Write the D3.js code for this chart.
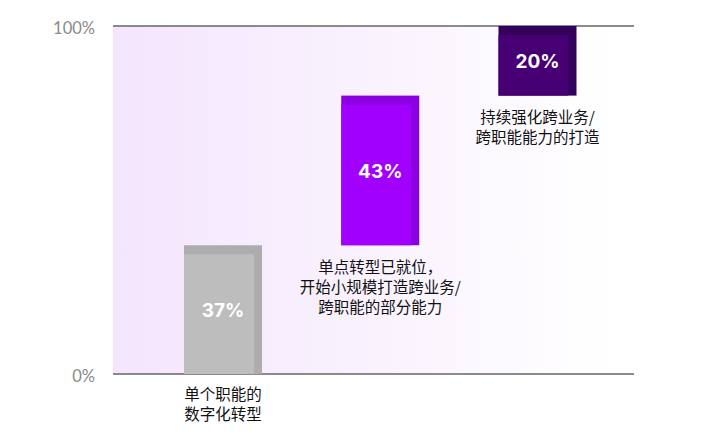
<!DOCTYPE html>
<html>
<head>
<meta charset="UTF-8">
<script src="https://d3js.org/d3.v7.min.js"></script>
<style>
  body { margin: 0; background: #fff; }
  text { font-family: "Noto Sans CJK SC", "Noto Sans", sans-serif; }
</style>
</head>
<body>
<script>
// data
var stages = ["单个职能的数字化转型", "单点转型已就位", "持续强化跨业务"];
var shares = [37, 43, 20];
var stageLabels = [
  ["单个职能的", "数字化转型"],
  ["单点转型已就位，", "开始小规模打造跨业务/", "跨职能的部分能力"],
  ["持续强化跨业务/", "跨职能能力的打造"]
];
var yTicks = [0, 100];
var faceColors = ["#bdbdbd", "#a100ff", "#460073"];
var edgeColors = ["#adadad", "#8b00e0", "#33005b"];

var width = 712, height = 438;
var plotLeft = 113, plotRight = 634, plotTop = 26, plotBottom = 374;

var svg = d3.select("body").append("svg")
    .attr("width", width)
    .attr("height", height);

// running totals for waterfall
var start = [];
var acc = 0;
shares.forEach(function (v) { start.push(acc); acc += v; });

var y = d3.scaleLinear().domain([0, 100]).range([plotBottom, plotTop]);
var x = d3.scalePoint().domain(stages).range([223, 537.5]);
var barW = 78;

// background gradient
var grad = svg.append("defs").append("linearGradient")
    .attr("id", "bg").attr("x1", "0%").attr("x2", "100%");
grad.append("stop").attr("offset", "0%").attr("stop-color", "#f4e5fd");
grad.append("stop").attr("offset", "100%").attr("stop-color", "#ffffff");

svg.append("rect")
    .attr("x", plotLeft).attr("y", plotTop)
    .attr("width", 500).attr("height", plotBottom - plotTop)
    .attr("fill", "url(#bg)");

// lines at 0 and 100
svg.append("g").selectAll("line")
    .data(yTicks).enter().append("line")
    .attr("x1", plotLeft).attr("x2", plotRight)
    .attr("y1", function (d) { return y(d); })
    .attr("y2", function (d) { return y(d); })
    .attr("stroke", "#666").attr("stroke-width", 1.5);

svg.append("g").selectAll("text")
    .data(yTicks).enter().append("text")
    .attr("x", 95)
    .attr("y", function (d) { return y(d) + 2; })
    .attr("dy", "0.35em")
    .attr("text-anchor", "end")
    .attr("fill", "#8a8a8a")
    .style("font-family", "Lato, 'Noto Sans', sans-serif")
    .style("font-size", "16.5px")
    .text(function (d) { return d + "%"; });

// bars
var bars = svg.append("g").selectAll("g")
    .data(stages).enter().append("g");

bars.append("rect")
    .attr("x", function (d) { return x(d) - barW / 2; })
    .attr("y", function (d, i) { return y(start[i] + shares[i]); })
    .attr("width", barW)
    .attr("height", function (d, i) { return y(start[i]) - y(start[i] + shares[i]); })
    .attr("fill", function (d, i) { return edgeColors[i]; });

bars.append("rect")
    .attr("x", function (d) { return x(d) - barW / 2; })
    .attr("y", function (d, i) { return y(start[i] + shares[i]) + 9; })
    .attr("width", barW - 8)
    .attr("height", function (d, i) { return y(start[i]) - y(start[i] + shares[i]) - 9; })
    .attr("fill", function (d, i) { return faceColors[i]; });

bars.append("text")
    .attr("x", function (d) { return x(d); })
    .attr("y", function (d, i) { return y(start[i] + shares[i] / 2) + 1; })
    .attr("dy", "0.35em")
    .attr("text-anchor", "middle")
    .attr("fill", "#fff")
    .style("font-family", "Inter, 'Noto Sans', sans-serif")
    .style("font-weight", "700")
    .style("font-size", "19px")
    .text(function (d, i) { return shares[i] + "%"; });

// stage labels under each bar
bars.each(function (d, i) {
  var base = i === 0 ? y(0) + 21 : y(start[i]) + 22;
  d3.select(this).append("g").selectAll("text")
    .data(stageLabels[i]).enter().append("text")
    .attr("x", x(d))
    .attr("y", function (t, j) { return base + j * 20; })
    .attr("dy", "0.35em")
    .attr("text-anchor", "middle")
    .attr("fill", "#111")
    .style("font-size", "15.5px")
    .text(function (t) { return t; });
});
</script>
</body>
</html>
